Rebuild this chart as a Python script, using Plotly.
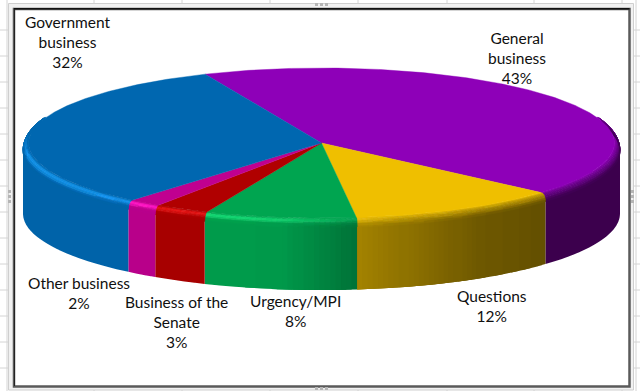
import numpy as np
import plotly.graph_objects as go

# ---- data ----
categories = ["General business", "Questions", "Urgency/MPI",
              "Business of the Senate", "Other business", "Government business"]
label_lines = [["General", "business"], ["Questions"], ["Urgency/MPI"],
               ["Business of the", "Senate"], ["Other business"], ["Government", "business"]]
values = [43.0, 11.6, 8.3, 3.0, 1.8, 32.3]

# ---- style ----
top_colors = [(142, 0, 184), (239, 191, 0), (0, 165, 80), (176, 0, 0), (192, 0, 144), (0, 103, 176)]
label_pos = [(517, 57.5), (492, 305.5), (295, 311), (176, 322), (79, 293), (67.5, 41.5)]
start_angle = -23.4
CX, CY = 321.5, 143.0
RX_TOP, RY_TOP = 293.0, 75.0
RX_OUT, RY_OUT = 298.5, 76.4
BEVEL, DEPTH = 8.0, 70.6
FRAME_DARK = "#5a5a5a"


def side_factor(x):
    f = np.interp(x, [130, 280, 330, 360, 480, 540, 620],
                  [.96, .93, .78, .68, .46, .42, .42])
    return round(float(f) * 100) / 100


def highlight(theta):
    return np.interp(theta, [112, 165, 190, 230, 262, 280],
                     [0, 0, .75, 1, 1, 0])


def quant(c, step):
    return tuple(int(min(255, max(0, round(v / step) * step))) for v in c)


def bevel_point(theta, t):
    rad = np.radians(theta)
    k = np.sin(t * np.pi / 2)
    k2 = 1 - np.cos(t * np.pi / 2)
    rx = RX_TOP + (RX_OUT - RX_TOP) * k
    ry = RY_TOP + (RY_OUT - RY_TOP) * k
    return CX + rx * np.sin(rad), CY - ry * np.cos(rad) + BEVEL * k2


wall_polys = {}
bevel_polys = {}


def add_poly(store, q, xs, ys):
    d = store.setdefault(q, ([], []))
    d[0].extend(list(xs) + [xs[0], None])
    d[1].extend(list(ys) + [ys[0], None])


fracs = np.array(values) / sum(values) * 360.0
bounds = start_angle + np.concatenate([[0], np.cumsum(fracs)])

traces_top = []
for i, tc in enumerate(top_colors):
    a0, a1 = bounds[i], bounds[i + 1]
    tc = np.array(tc, float)
    # side wall: every strip runs on under the next one, so no seams show
    s0, s1 = max(a0, 90), min(a1, 270)
    if s1 > s0:
        n = max(1, int((s1 - s0) / 1.0))
        ang = np.linspace(s0, s1, n + 1)
        step = ang[1] - ang[0]
        for u, v in zip(ang[:-1], ang[1:]):
            xm = CX + RX_OUT * np.sin(np.radians((u + v) / 2))
            col = quant(tc * side_factor(xm), 1)
            arc = np.radians(np.linspace(u, min(v + 2 * step, s1), 4))
            xs = CX + RX_OUT * np.sin(arc)
            ys = CY - RY_OUT * np.cos(arc) + BEVEL
            add_poly(wall_polys, col, list(xs) + list(xs[::-1]),
                     list(ys - 4) + list((ys + DEPTH - BEVEL)[::-1]))
    # bevel
    b0, b1 = max(a0, 70), min(a1, 290)
    if b1 > b0:
        n = max(1, int((b1 - b0) / 1.0))
        ang = np.linspace(b0, b1, n + 1)
        ts = np.linspace(0, 1, 9)
        for u, v in zip(ang[:-1], ang[1:]):
            mid = (u + v) / 2
            xm = CX + RX_OUT * np.sin(np.radians(mid))
            base = tc * side_factor(xm)
            h = highlight(mid)
            for t0, t1 in zip(ts[:-1], ts[1:]):
                t = (t0 + t1) / 2
                col = tc * (1 - t) + base * t
                bump = np.exp(-((t - .42) / .2) ** 2)
                col = col + h * bump * (tc * .26 + 22)
                p = [bevel_point(u, t0), bevel_point(v, t0), bevel_point(v, t1), bevel_point(u, t1)]
                add_poly(bevel_polys, quant(col, 4), [q[0] for q in p], [q[1] for q in p])
    # top face
    ang = np.radians(np.linspace(a0, a1, int(a1 - a0) * 2 + 2))
    xs = [CX] + list(CX + RX_TOP * np.sin(ang))
    ys = [CY] + list(CY - RY_TOP * np.cos(ang))
    traces_top.append(go.Scatter(x=xs + [CX], y=ys + [CY], mode="lines", fill="toself",
                                 fillcolor="rgb(%d,%d,%d)" % tuple(int(c) for c in tc),
                                 line=dict(color="rgb(%d,%d,%d)" % tuple(int(c) for c in tc), width=.4),
                                 hoverinfo="skip", showlegend=False))

fig = go.Figure()
for store, w in ((wall_polys, 0), (bevel_polys, .7)):
    for c, (xs, ys) in store.items():
        rgb = "rgb(%d,%d,%d)" % c
        fig.add_trace(go.Scatter(x=xs, y=ys, mode="lines", fill="toself", fillcolor=rgb,
                                 line=dict(color=rgb, width=w), hoverinfo="skip", showlegend=False))
for t in traces_top:
    fig.add_trace(t)

# ---- sheet background and chart frame ----
shapes = []
for y in range(30, 391, 26):
    shapes.append(dict(type="line", x0=0, x1=8, y0=y, y1=y, line=dict(color="#d4d4d4", width=1)))
    shapes.append(dict(type="line", x0=633, x1=640, y0=y, y1=y, line=dict(color="#d4d4d4", width=1)))
for x in [94, 182, 270, 358, 447, 534, 622]:
    shapes.append(dict(type="line", x0=x, x1=x, y0=0, y1=3, line=dict(color="#d4d4d4", width=1)))
    shapes.append(dict(type="line", x0=x, x1=x, y0=389, y1=391, line=dict(color="#d4d4d4", width=1)))
shapes.append(dict(type="line", x0=7, x1=7, y0=0, y1=391, line=dict(color="#d4d4d4", width=1)))
shapes.append(dict(type="line", x0=636, x1=636, y0=0, y1=391, line=dict(color="#d4d4d4", width=1)))
shapes.append(dict(type="rect", x0=8.5, x1=633.5, y0=3.5, y1=390, fillcolor="#f1f1f1",
                   line=dict(color="#cfcfcf", width=1)))
shapes.append(dict(type="rect", x0=14, x1=629.5, y0=9, y1=386.5, fillcolor="white",
                   line=dict(color=FRAME_DARK, width=2.5)))
shapes.append(dict(type="line", x0=14, x1=629.5, y0=8.8, y1=8.8, line=dict(color="#111111", width=1.6)))
shapes.append(dict(type="line", x0=14.5, x1=14.5, y0=9, y1=386, line=dict(color="#222222", width=1)))
for k in range(3):
    shapes.append(dict(type="rect", x0=315 + 5 * k, x1=318 + 5 * k, y0=3, y1=6,
                       fillcolor="#b5b5b5", line=dict(width=0)))
    shapes.append(dict(type="rect", x0=315 + 5 * k, x1=318 + 5 * k, y0=387, y1=390,
                       fillcolor="#b5b5b5", line=dict(width=0)))
    shapes.append(dict(type="rect", x0=8, x1=11, y0=190 + 5 * k, y1=193 + 5 * k,
                       fillcolor="#b5b5b5", line=dict(width=0)))
    shapes.append(dict(type="rect", x0=631, x1=634, y0=190 + 5 * k, y1=193 + 5 * k,
                       fillcolor="#b5b5b5", line=dict(width=0)))
for s in shapes:
    s["layer"] = "below"

annotations = []
for lines, v, (x, y) in zip(label_lines, values, label_pos):
    txt = "<br>".join(lines + ["%d%%" % round(v)])
    annotations.append(dict(x=x, y=y, text=txt, showarrow=False, xref="x", yref="y",
                            align="center", xanchor="center", yanchor="middle",
                            font=dict(family="Lato", size=15.5, color="#101010")))

fig.update_layout(
    width=640, height=391, margin=dict(l=0, r=0, t=0, b=0),
    paper_bgcolor="white", plot_bgcolor="rgba(0,0,0,0)", showlegend=False,
    xaxis=dict(range=[0, 640], visible=False, fixedrange=True),
    yaxis=dict(range=[391, 0], visible=False, fixedrange=True),
    shapes=shapes, annotations=annotations,
)
fig.write_html("out.html", config={"displayModeBar": False},
               post_script="document.body.style.margin='0';document.documentElement.style.overflow='hidden';")
